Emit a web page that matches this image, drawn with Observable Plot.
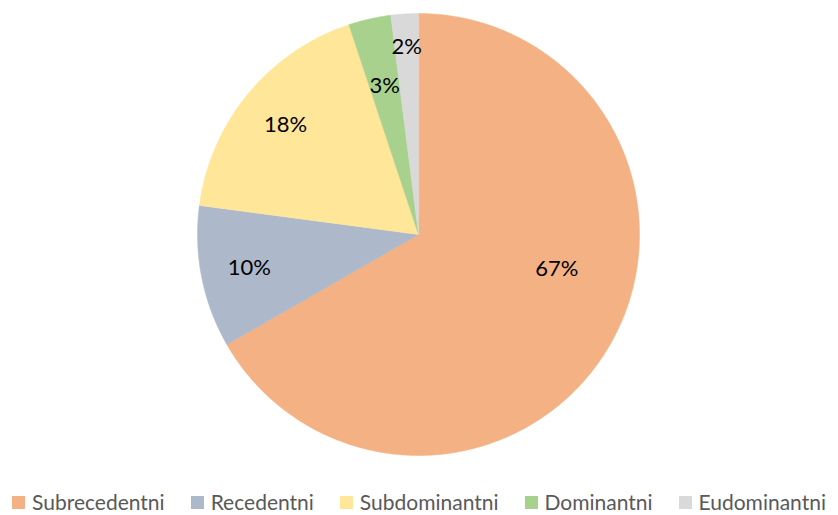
<!DOCTYPE html>
<html>
<head>
<meta charset="utf-8">
<script src="https://cdn.jsdelivr.net/npm/d3@7"></script>
<script src="https://cdn.jsdelivr.net/npm/@observablehq/plot@0.6"></script>
<style>
  html, body { margin: 0; padding: 0; background: #fff; }
  body { width: 838px; height: 515px; font-family: Lato, "Open Sans", sans-serif; }
  #chart svg { display: block; }
  #legend { display: flex; justify-content: center; gap: 26px; font-size: 21px; line-height: 26px; color: #595959; height: 26px; align-items: center; margin-top: 1px; }
  #legend span.item { display: flex; align-items: center; white-space: nowrap; }
  #legend span.sw { display: inline-block; width: 13px; height: 13px; margin-right: 7px; }
</style>
</head>
<body>
<div id="chart"></div>
<div id="legend"></div>
<script>
const categories = ["Subrecedentni", "Recedentni", "Subdominantni", "Dominantni", "Eudominantni"];
const values = [66.7, 10.4, 17.8, 3.1, 2.0];
const labels = ["67%", "10%", "18%", "3%", "2%"];
const colors = ["#F4B183", "#ADB9CA", "#FFE699", "#A9D18E", "#D9D9D9"];

const W = 838, H = 488;
const cx = 418, cy = 234, R = 221;

const pie = d3.pie().sort(null).value(d => d.value)(categories.map((c, i) => ({category: c, value: values[i], label: labels[i]})));

// polygon points in unit coordinates (angle measured clockwise from top)
const polys = [];
pie.forEach(p => {
  const a0 = p.startAngle, a1 = p.endAngle;
  const n = Math.max(2, Math.ceil((a1 - a0) / 0.01));
  polys.push({category: p.data.category, x: 0, y: 0});
  for (let k = 0; k <= n; k++) {
    const a = a0 + (a1 - a0) * k / n;
    polys.push({category: p.data.category, x: Math.sin(a), y: Math.cos(a)});
  }
});

// label placement (best-fit like)
const labelPts = pie.map(p => {
  let a = (p.startAngle + p.endAngle) / 2;
  let frac;
  if (p.data.value > 50) { frac = 0.645; a -= 0.28; }
  else if (p.data.value < 2.5) frac = 0.85;
  else if (p.data.value < 5) frac = 0.69;
  else frac = 0.78;
  return {label: p.data.label, x: frac * Math.sin(a), y: frac * Math.cos(a)};
});

const chart = Plot.plot({
  width: W,
  height: H,
  margin: 0,
  x: {domain: [-1, 1], range: [cx - R, cx + R], axis: null},
  y: {domain: [-1, 1], range: [cy + R, cy - R], axis: null},
  color: {domain: categories, range: colors},
  marks: [
    Plot.line(polys, {x: "x", y: "y", z: "category", fill: "category", stroke: "category", strokeWidth: 0.5, curve: "linear-closed"}),
    Plot.text(labelPts, {x: "x", y: "y", text: "label", fontSize: 22, fill: "black", fontFamily: "Lato, 'Open Sans', sans-serif"})
  ]
});
document.getElementById("chart").appendChild(chart);

const legend = document.getElementById("legend");
categories.forEach((c, i) => {
  const it = document.createElement("span");
  it.className = "item";
  const sw = document.createElement("span");
  sw.className = "sw";
  sw.style.background = colors[i];
  it.appendChild(sw);
  it.appendChild(document.createTextNode(c));
  legend.appendChild(it);
});
</script>
</body>
</html>
